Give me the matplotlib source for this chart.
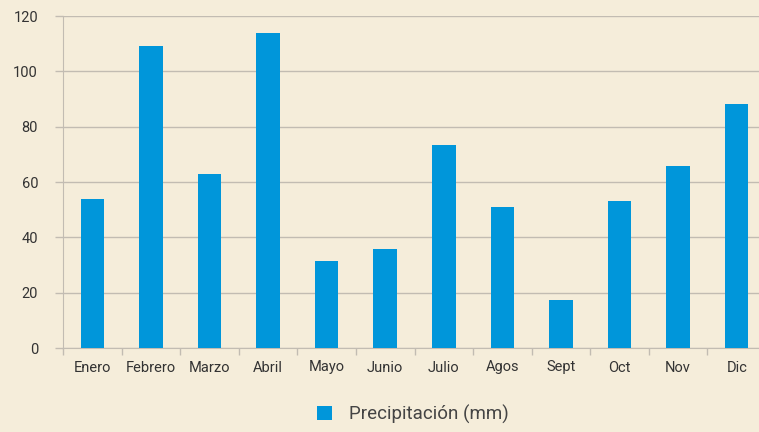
import matplotlib
matplotlib.use("Agg")
import matplotlib.pyplot as plt
import numpy as np

meses = ["Enero", "Febrero", "Marzo", "Abril", "Mayo", "Junio", "Julio",
         "Agos", "Sept", "Oct", "Nov", "Dic"]
precip = [54, 109, 63, 114, 31.5, 35.8, 73.5, 51, 17.2, 53.2, 65.7, 88.2]
yticks = [0, 20, 40, 60, 80, 100, 120]

plt.rcParams["font.family"] = ["Roboto", "DejaVu Sans"]

bg = "#F5EDDA"
azul = "#0096DA"
gris = "#C2BCB2"
texto = "#333333"

fig = plt.figure(figsize=(7.59, 4.32), dpi=100, facecolor=bg)
ax = fig.add_axes([63 / 759, 84 / 432, 703 / 759, 332 / 432])
ax.set_facecolor(bg)

x = np.arange(len(meses))
ax.bar(x, precip, width=0.4, color=azul, label="Precipitación (mm)", zorder=3)

ax.set_xlim(-0.5, len(meses) - 0.5)
ax.set_ylim(0, 120)
ax.set_yticks(yticks)
ax.set_xticks(x)
ax.set_xticklabels(meses)
ax.set_xticks(np.arange(-0.5, len(meses), 1), minor=True)
ax.tick_params(axis="x", which="major", length=0, pad=9, labelsize=10.5, labelcolor=texto)
ax.tick_params(axis="x", which="minor", length=5, color=gris, width=1)
ax.tick_params(axis="y", length=6, color=gris, width=1, pad=12, labelsize=10.5, labelcolor=texto)
ax.yaxis.grid(True, color=gris, linewidth=1, zorder=0)
ax.set_axisbelow(True)
for s in ["top", "right"]:
    ax.spines[s].set_visible(False)
ax.spines["left"].set_color(gris)
ax.spines["bottom"].set_color(gris)

fig.legend(loc="center", bbox_to_anchor=(413 / 759, 1 - 414 / 432), frameon=False,
           fontsize=13.5, labelcolor="#444444", handlelength=0.8, handleheight=0.8,
           handletextpad=0.9)

fig.savefig("out.png", dpi=100, facecolor=bg)
